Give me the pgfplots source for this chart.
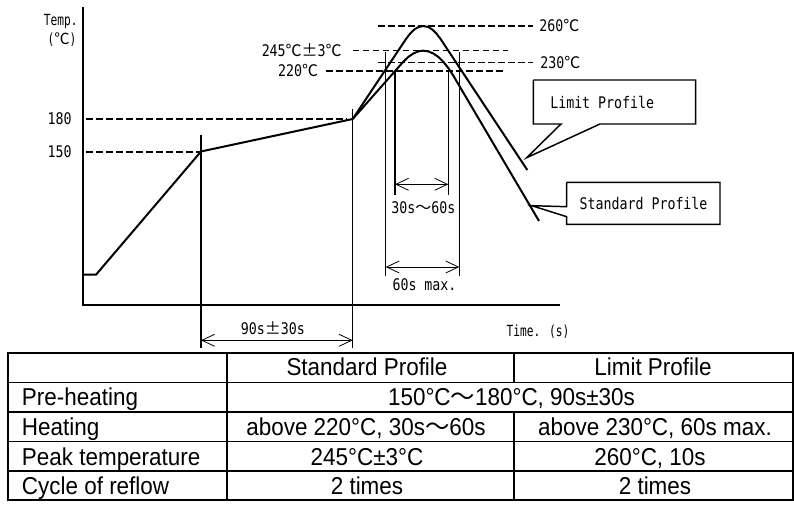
\documentclass[border=0pt]{standalone}
\usepackage{pgfplots}
\pgfplotsset{compat=1.18}
\usetikzlibrary{arrows.meta}
\usepackage{fontspec}
\setmainfont[FakeStretch=0.92]{Liberation Sans}
\newfontfamily\labfont[FakeStretch=0.83]{DejaVu Sans Mono}
\newfontfamily\labnfont[FakeStretch=0.73]{DejaVu Sans Mono}
\newfontfamily\cjk{Noto Sans CJK JP}
\newcommand{\dC}{{\cjk ℃}}
\newcommand{\zpm}{{\cjk ±}}
\newcommand{\ztl}{{\cjk ～}}

% reflow profiles, in picture units (x right, y down)
\pgfplotstableread{
x y
82.7 274.7
96 274.7
201 151.5
352.7 119
}\preheat
\pgfplotstableread{
x y
352.7 119
406.1 38.9
410.3 33.4
414.3 29.5
418.3 27.1
423.3 26
428.3 27.1
432.3 29.5
436.3 33.4
440.5 38.9
527.3 170
}\limitprof
\pgfplotstableread{
x y
352.7 119
402.9 62.2
408.3 56.9
413.3 53.5
418.3 51.4
423.3 50.7
428.3 51.4
433.3 53.5
438.3 56.9
443.3 61.8
448.3 68.0
453.1 75.3
539 221
}\stdprof

\tikzset{
  lvl/.style={line width=1.2pt, dash pattern=on 4.9pt off 2.6pt},
  vline/.style={line width=1pt},
  dim/.style={line width=0.6pt,
    arrows={Straight Barb[length=9.5pt,width=9pt]-Straight Barb[length=9.5pt,width=9pt]}},
  lab/.style={inner sep=0pt, font=\labfont\fontsize{12}{14}\selectfont},
  labn/.style={inner sep=0pt, font=\labnfont\fontsize{11.5}{13}\selectfont},
  tab/.style={inner sep=0pt, font=\fontsize{18.3}{21}\selectfont},
}

\begin{document}
\begin{tikzpicture}
\begin{axis}[
  width=595.5pt, height=378.75pt, scale only axis,
  xmin=0, xmax=794, ymin=0, ymax=505, y dir=reverse,
  hide axis, clip=false,
]
\path (rel axis cs:0,0) rectangle (rel axis cs:1,1);

% axes of the sketch
\addplot[line width=1.5pt] coordinates {(82.7,6.7) (82.7,305.5) (560,305.5)};

% dashed level lines
\addplot[lvl] coordinates {(86,152.3) (200,152.3)};
\addplot[lvl] coordinates {(86,119) (346.7,119)};
\addplot[lvl] coordinates {(326,71) (505.7,71)};
\addplot[lvl] coordinates {(352.7,50.5) (508.3,50.5)};
\addplot[lvl] coordinates {(378.3,26) (533,26)};
\addplot[lvl] coordinates {(378.3,62.7) (533,62.7)};

% vertical markers
\addplot[vline] coordinates {(201,135) (201,348.3)};
\addplot[vline] coordinates {(352.7,109.3) (352.7,348.3)};
\addplot[vline] coordinates {(385.7,52.3) (385.7,276)};
\addplot[vline] coordinates {(459.3,52.3) (459.3,276)};
\addplot[vline] coordinates {(395,71) (395,195)};
\addplot[vline] coordinates {(448.3,71) (448.3,195)};

% profiles
\addplot[line width=1.5pt, line join=round] table[x=x,y=y] {\preheat};
\addplot[line width=1.5pt, line join=round] table[x=x,y=y] {\limitprof};
\addplot[line width=1.5pt, line join=round] table[x=x,y=y] {\stdprof};

% dimension arrows
\addplot[dim] coordinates {(395,184.3) (448.3,184.3)};
\addplot[dim] coordinates {(385.7,267) (459.3,267)};
\addplot[dim] coordinates {(201,340.3) (352.7,340.3)};

% callouts
\addplot[line width=1.1pt, line join=miter] coordinates {(533.3,80) (695.7,80) (695.7,124) (600,124) (526.7,157.7) (561,124) (533.3,124) (533.3,80)};
\addplot[line width=1.1pt, line join=miter] coordinates {(566.7,182.3) (720,182.3) (720,224.3) (566.7,224.3) (566.7,216.7) (531.7,205.7) (566.7,206.7) (566.7,182.3)};

% labels
\node[labn, anchor=base] at (axis cs:60.8,26) {Temp.};
\node[labn, anchor=base] at (axis cs:62,44.5) {(\dC)};
\node[lab, anchor=base] at (axis cs:59.7,124.8) {180};
\node[lab, anchor=base] at (axis cs:59.7,157.8) {150};
\node[lab, anchor=base east] at (axis cs:342,56.5) {245\dC\zpm3\dC};
\node[lab, anchor=base east] at (axis cs:318.5,76.8) {220\dC};
\node[lab, anchor=base west] at (axis cs:539,31.8) {260\dC};
\node[lab, anchor=base west] at (axis cs:540,68.5) {230\dC};
\node[lab, anchor=base] at (axis cs:423.3,214) {30s\ztl60s};
\node[lab, anchor=base] at (axis cs:424.5,290.8) {60s max.};
\node[lab, anchor=base] at (axis cs:272.8,335) {90s\zpm30s};
\node[labn, anchor=base] at (axis cs:538,337) {Time. (s)};
\node[lab, anchor=base west] at (axis cs:550,108.5) {Limit Profile};
\node[lab, anchor=base west] at (axis cs:579.3,209.8) {Standard Profile};

% table
\draw[line width=1.5pt] (axis cs:8.3,353) rectangle (axis cs:792.5,500.5);
\draw[line width=1.3pt] (axis cs:8.3,382.5) -- (axis cs:792.5,382.5);
\draw[line width=1.3pt] (axis cs:8.3,412) -- (axis cs:792.5,412);
\draw[line width=1.3pt] (axis cs:8.3,441.5) -- (axis cs:792.5,441.5);
\draw[line width=1.3pt] (axis cs:8.3,471) -- (axis cs:792.5,471);
\draw[line width=1.3pt] (axis cs:226.7,353) -- (axis cs:226.7,500.5);
\draw[line width=1.3pt] (axis cs:514,353) -- (axis cs:514,382.5);
\draw[line width=1.3pt] (axis cs:514,412) -- (axis cs:514,500.5);

\node[tab, anchor=base] at (axis cs:367,375.3) {Standard Profile};
\node[tab, anchor=base] at (axis cs:653,375.3) {Limit Profile};
\node[tab, anchor=base west] at (axis cs:21.7,405.3) {Pre-heating};
\node[tab, anchor=base] at (axis cs:511.5,405.3) {150°C\ztl180°C, 90s±30s};
\node[tab, anchor=base west] at (axis cs:21.7,435.2) {Heating};
\node[tab, anchor=base] at (axis cs:366,435.2) {above 220°C, 30s\ztl60s};
\node[tab, anchor=base] at (axis cs:655,435.2) {above 230°C, 60s max.};
\node[tab, anchor=base west] at (axis cs:21.7,465.2) {Peak temperature};
\node[tab, anchor=base] at (axis cs:367,465.2) {245°C±3°C};
\node[tab, anchor=base] at (axis cs:650,465.2) {260°C, 10s};
\node[tab, anchor=base west] at (axis cs:21.7,494.3) {Cycle of reflow};
\node[tab, anchor=base] at (axis cs:367,494.3) {2 times};
\node[tab, anchor=base] at (axis cs:655,494.3) {2 times};
\end{axis}
\end{tikzpicture}
\end{document}
